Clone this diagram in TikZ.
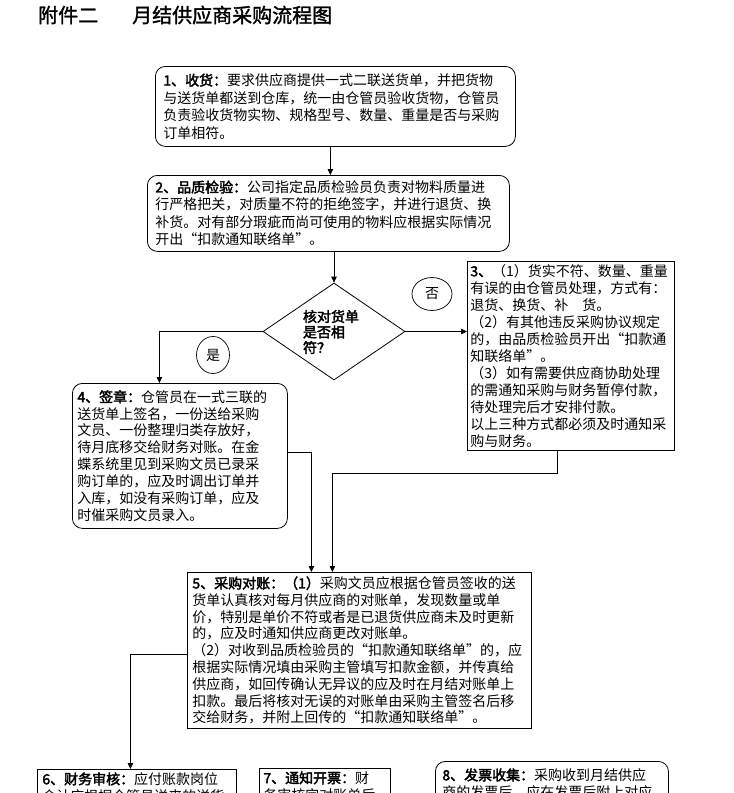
\documentclass[tikz,border=0pt]{standalone}
\usepackage{fontspec}
\setmainfont{Noto Sans CJK SC}
\newfontfamily\cjkb{Noto Sans CJK SC}[FakeBold=2.5]
\newfontfamily\cjkt{Noto Sans CJK SC}[FakeBold=1.5]
\usetikzlibrary{shapes.geometric,arrows.meta}
\newcommand\qL{\makebox[1em][r]{“}}
\newcommand\qR{\makebox[1em][l]{”}}
\begin{document}
\begin{tikzpicture}[x=1pt,y=-1pt,
  every node/.style={inner sep=0pt},
  body/.style={font=\fontsize{14}{17.5}\selectfont, align=left, anchor=north west, draw, line width=0.8pt},
  rbox/.style={body, rounded corners=10pt},
  arr/.style={line width=0.8pt, -{Triangle[length=6pt,width=5.5pt]}},
  ln/.style={line width=0.8pt},
  oval/.style={draw, ellipse, line width=0.7pt, font=\fontsize{14}{16}\selectfont}
]
\useasboundingbox (0,0) rectangle (734,793);
\clip (0,0) rectangle (734,793);
\fill[white] (0,0) rectangle (734,793);

\node[font=\fontsize{20}{24}\cjkt, anchor=west] (title) at (38,15) {附件二\hspace{34pt}月结供应商采购流程图};

\node[rbox, text width=344pt, inner xsep=8pt, minimum height=80pt] (b1) at (155,66)
{{\cjkb 1、收货：}要求供应商提供一式二联送货单，并把货物\\
与送货单都送到仓库，统一由仓管员验收货物，仓管员\\
负责验收货物实物、规格型号、数量、重量是否与采购\\
订单相符。};

\node[rbox, text width=346pt, inner xsep=8pt, minimum height=76pt] (b2) at (147,175)
{{\cjkb 2、品质检验：}公司指定品质检验员负责对物料质量进\\
行严格把关，对质量不符的拒绝签字，并进行退货、换\\
补货。对有部分瑕疵而尚可使用的物料应根据实际情况\\
开出\qL 扣款通知联络单\qR 。};

\node[draw, diamond, line width=0.8pt, minimum width=142pt, minimum height=97pt] (d) at (334,331.5) {};
\node[font=\fontsize{14}{15.5}\cjkb, align=left] (dt) at (331,332) {核对货单\\是否相\\符？};

\node[oval, minimum width=40pt, minimum height=33pt] (no) at (432,294) {否};
\node[oval, minimum width=33pt, minimum height=37pt] (yes) at (213,355) {是};

\node[body, text width=201pt, inner xsep=3pt, minimum height=189pt, font=\fontsize{14}{17}\selectfont] (b3) at (467,261)
{{\cjkb 3、}（1）货实不符、数量、重量\\
有误的由仓管员处理，方式有：\\
退货、换货、补　货。\\
（2）有其他违反采购协议规定\\
的，由品质检验员开出\qL 扣款通\\
知联络单\qR 。\\
（3）如有需要供应商协助处理\\
的需通知采购与财务暂停付款，\\
待处理完后才安排付款。\\
以上三种方式都必须及时通知采\\
购与财务。};

\node[rbox, text width=205pt, inner xsep=5pt, minimum height=145pt, font=\fontsize{14}{16.9}\selectfont] (b4) at (72,383)
{{\cjkb 4、签章：}仓管员在一式三联的\\
送货单上签名，一份送给采购\\
文员、一份整理归类存放好，\\
待月底移交给财务对账。在金\\
蝶系统里见到采购文员已录采\\
购订单的，应及时调出订单并\\
入库，如没有采购订单，应及\\
时催采购文员录入。};

\node[body, text width=334pt, inner xsep=5pt, minimum height=156pt, font=\fontsize{14}{16.8}\selectfont] (b5) at (187,572)
{{\cjkb 5、采购对账：（1）}采购文员应根据仓管员签收的送\\
货单认真核对每月供应商的对账单，发现数量或单\\
价，特别是单价不符或者是已退货供应商未及时更新\\
的，应及时通知供应商更改对账单。\\
（2）对收到品质检验员的\qL 扣款通知联络单\qR 的，应\\
根据实际情况填由采购主管填写扣款金额，并传真给\\
供应商，如回传确认无异议的应及时在月结对账单上\\
扣款。最后将核对无误的对账单由采购主管签名后移\\
交给财务，并附上回传的\qL 扣款通知联络单\qR 。};

\node[body, text width=189pt, inner xsep=5pt, inner ysep=3pt] (b6) at (37,769)
{{\cjkb 6、财务审核：}应付账款岗位\\
会计应根据仓管员送来的送货};

\node[body, text width=123pt, inner xsep=4pt, inner ysep=3pt] (b7) at (259,768)
{{\cjkb 7、通知开票：}财\\
务审核完对账单后};

\node[rbox, text width=219pt, inner xsep=7pt, inner ysep=7pt] (b8) at (435,761)
{{\cjkb 8、发票收集：}采购收到月结供应\\
商的发票后，应在发票后附上对应};

% connectors
\draw[arr] ([xshift=-5pt]b1.south) -- ([xshift=-5pt]b1.south |- b2.north);
\draw[arr] (d.north |- b2.south) -- (d.north);
\draw[arr] (d.east) -- (d.east -| b3.west);
\draw[arr] (d.west) -| ([xshift=-20.5pt]b4.north);
\draw[arr] ([yshift=3.5pt]b4.east) -| ([xshift=-48pt]b5.north);
\draw[arr] ([xshift=-13.5pt]b3.south) -- ++(0,23) -| ([xshift=-27pt]b5.north);
\draw[arr] ([yshift=-4pt]b5.west) -| ([xshift=-6.5pt]b6.north);
\end{tikzpicture}
\end{document}
